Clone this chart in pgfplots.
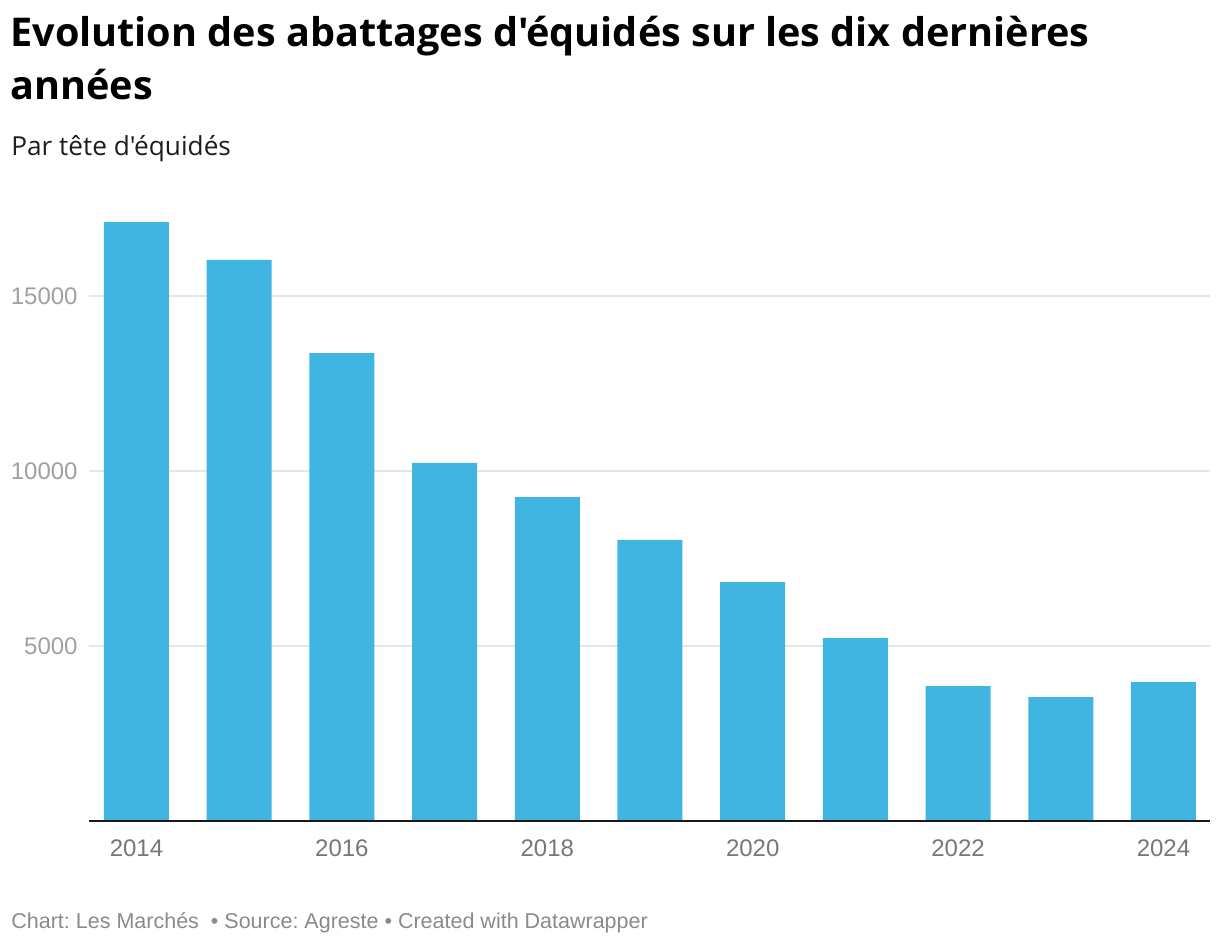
\documentclass[border=0pt]{standalone}
\usepackage{fontspec}
\setmainfont{Liberation Sans}
\newfontfamily\titlefont{Open Sans}
\usepackage{pgfplots}
\pgfplotsset{compat=1.18}

\definecolor{barblue}{HTML}{40B5E1}
\definecolor{gridgray}{HTML}{E6E6E6}
\definecolor{ytickgray}{HTML}{A0A0A0}
\definecolor{xtickgray}{HTML}{777777}
\definecolor{subgray}{HTML}{1D1D1D}
\definecolor{footgray}{HTML}{8A8A8A}
\newcommand\apos{\char39\relax}

\begin{document}
\frenchspacing
\begin{tikzpicture}
\useasboundingbox (0,0) rectangle (610pt,-472pt);

% titles
\node[anchor=base west, inner sep=0pt, font=\titlefont\fontsize{19.8}{22}\selectfont\bfseries]
  at (5pt,-23.25pt) {Evolution des abattages d\apos équidés sur les dix dernières};
\node[anchor=base west, inner sep=0pt, font=\titlefont\fontsize{19.8}{22}\selectfont\bfseries]
  at (5pt,-49.5pt) {années};
\node[anchor=base west, inner sep=0pt, font=\titlefont\fontsize{13.1}{15}\selectfont, text=subgray]
  at (5.5pt,-77.5pt) {Par tête d\apos équidés};

\begin{axis}[
    at={(44.5pt,-410.5pt)}, anchor=south west,
    scale only axis, width=560.5pt, height=315pt,
    xmin=-0.4625, xmax=10.453, ymin=0, ymax=18000,
    scaled ticks=false,
    axis line style={draw=none},
    major tick length=0pt,
    ymajorgrids, grid style={color=gridgray, line width=0.75pt},
    ytick={5000,10000,15000},
    yticklabels={5000,10000,15000},
    yticklabel style={anchor=east, inner sep=0pt, xshift=-5.5pt, text=ytickgray,
                      font=\fontsize{12}{14}\selectfont},
    xtick={0,2,4,6,8,10},
    xticklabels={2014,2016,2018,2020,2022,2024},
    xticklabel style={anchor=base, inner sep=0pt, yshift=-17.5pt, text=xtickgray,
                      font=\fontsize{12}{14}\selectfont},
    ybar, bar width=32.5pt,
    clip=false,
]
\addplot[fill=barblue, draw=none] coordinates {
  (0,17114) (1,16029) (2,13371) (3,10229) (4,9257) (5,8029)
  (6,6829) (7,5229) (8,3857) (9,3543) (10,3971)
};
\draw[line width=1pt, color=black!90] (rel axis cs:0,0) -- (rel axis cs:1,0);
\end{axis}

\node[anchor=base west, inner sep=0pt, font=\fontsize{10.75}{12}\selectfont, text=footgray]
  at (5.5pt,-464pt) {Chart: Les Marchés\ \ • Source: Agreste • Created with Datawrapper};
\end{tikzpicture}
\end{document}
